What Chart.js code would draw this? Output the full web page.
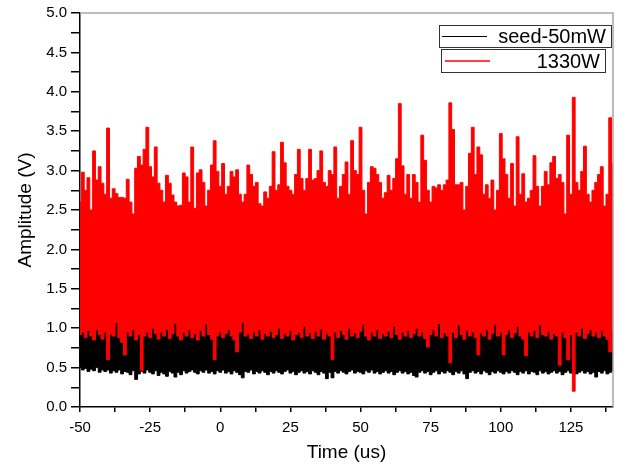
<!DOCTYPE html>
<html>
<head>
<meta charset="utf-8">
<script src="https://cdn.jsdelivr.net/npm/chart.js@4/dist/chart.umd.min.js"></script>
<style>
  html, body { margin: 0; padding: 0; background: #fff; }
  #wrap { width: 622px; height: 468px; }
</style>
</head>
<body>
<div id="wrap"><canvas id="chart" width="622" height="468"></canvas></div>
<script>
// sample times (us), one reading per microsecond
const times = [
  -50, -49, -48, -47, -46, -45, -44, -43, -42, -41,
  -40, -39, -38, -37, -36, -35, -34, -33, -32, -31,
  -30, -29, -28, -27, -26, -25, -24, -23, -22, -21,
  -20, -19, -18, -17, -16, -15, -14, -13, -12, -11,
  -10, -9, -8, -7, -6, -5, -4, -3, -2, -1,
  0, 1, 2, 3, 4, 5, 6, 7, 8, 9,
  10, 11, 12, 13, 14, 15, 16, 17, 18, 19,
  20, 21, 22, 23, 24, 25, 26, 27, 28, 29,
  30, 31, 32, 33, 34, 35, 36, 37, 38, 39,
  40, 41, 42, 43, 44, 45, 46, 47, 48, 49,
  50, 51, 52, 53, 54, 55, 56, 57, 58, 59,
  60, 61, 62, 63, 64, 65, 66, 67, 68, 69,
  70, 71, 72, 73, 74, 75, 76, 77, 78, 79,
  80, 81, 82, 83, 84, 85, 86, 87, 88, 89,
  90, 91, 92, 93, 94, 95, 96, 97, 98, 99,
  100, 101, 102, 103, 104, 105, 106, 107, 108, 109,
  110, 111, 112, 113, 114, 115, 116, 117, 118, 119,
  120, 121, 122, 123, 124, 125, 126, 127, 128, 129,
  130, 131, 132, 133, 134, 135, 136, 137, 138, 139,
  140
];

// 1330W trace: upper and lower envelope (V)
const redHigh = [
  2.6, 2.98, 2.75, 2.91, 2.5, 3.25, 2.88, 3.05, 2.84, 2.7,
  3.54, 2.65, 2.77, 2.71, 2.66, 2.66, 2.65, 2.89, 2.6, 2.45,
  3.03, 3.18, 3.07, 3.27, 3.55, 3.05, 2.92, 3.3, 2.84, 2.75,
  2.6, 2.94, 2.84, 2.69, 2.6, 2.55, 2.56, 2.97, 2.92, 2.6,
  3.3, 2.52, 2.97, 3.01, 2.85, 2.55, 2.75, 3.07, 3.38, 2.99,
  2.8, 3.09, 2.7, 2.8, 2.99, 2.92, 3.01, 2.7, 2.6, 2.7,
  3.07, 2.95, 2.8, 2.85, 2.58, 2.55, 2.73, 2.65, 2.8, 3.24,
  2.75, 2.82, 3.36, 3.1, 2.8, 2.75, 2.7, 2.95, 3.27, 2.9,
  2.75, 2.9, 3.27, 2.88, 2.9, 3.0, 3.25, 2.85, 2.8, 3.0,
  2.95, 3.3, 2.65, 2.8, 2.95, 3.11, 2.7, 3.38, 3.0, 2.95,
  3.55, 2.75, 2.45, 2.85, 3.05, 3.03, 2.95, 2.85, 2.65, 2.72,
  2.94, 2.75, 2.9, 3.15, 3.85, 3.06, 2.7, 2.95, 2.65, 2.95,
  2.85, 2.6, 3.45, 3.13, 2.75, 2.6, 2.8, 2.78, 2.82, 2.75,
  2.82, 2.88, 3.86, 3.52, 2.82, 2.82, 2.85, 2.5, 2.8, 3.22,
  3.55, 2.95, 3.3, 3.2, 2.7, 2.82, 2.65, 2.88, 2.5, 2.75,
  3.47, 3.15, 2.95, 2.65, 3.09, 2.55, 3.43, 2.7, 2.96, 2.6,
  2.65, 2.75, 3.19, 2.8, 2.55, 2.8, 2.99, 2.82, 3.1, 3.18,
  2.9, 2.95, 2.85, 2.45, 3.45, 2.7, 3.93, 2.85, 2.75, 2.99,
  3.31, 2.7, 2.6, 2.75, 2.85, 2.95, 3.05, 2.55, 2.7, 3.67,
  3.09
];
const redLow = [
  0.92, 0.95, 0.88, 0.97, 0.9, 0.85, 0.98, 0.92, 0.86, 0.95,
  0.6, 0.93, 0.9, 1.07, 0.88, 0.82, 0.66, 0.95, 0.9, 0.98,
  0.85, 0.92, 0.46, 0.9, 0.95, 0.88, 1.0, 0.93, 0.86, 0.95,
  0.9, 0.98, 0.87, 0.93, 1.06, 0.9, 0.85, 0.95, 0.9, 0.98,
  0.88, 0.93, 0.85, 0.97, 0.9, 1.05, 0.92, 0.86, 0.6, 0.9,
  0.95, 0.88, 0.93, 0.98, 0.9, 0.85, 0.7, 0.95, 1.07, 0.9,
  0.93, 0.87, 0.95, 0.9, 0.98, 0.86, 0.93, 0.9, 0.96, 0.88,
  0.92, 1.0, 0.87, 0.93, 0.9, 0.97, 0.85, 0.92, 0.95, 0.88,
  1.02, 0.9, 0.94, 0.87, 0.96, 0.9, 0.99, 0.86, 0.93, 0.9,
  0.6, 0.95, 0.88, 0.97, 0.92, 0.86, 1.0, 0.9, 0.94, 0.88,
  0.96, 1.05, 0.9, 0.85, 0.95, 0.9, 0.98, 0.87, 0.93, 0.9,
  0.96, 0.88, 1.02, 0.92, 0.86, 0.95, 0.9, 0.97, 0.88, 0.93,
  1.0, 0.9, 0.95, 0.87, 0.76, 0.92, 0.98, 0.9, 1.06, 0.88,
  0.94, 0.9, 0.56, 0.95, 0.88, 1.04, 0.92, 0.86, 0.97, 0.9,
  0.95, 0.88, 0.66, 0.94, 0.9, 0.98, 0.86, 0.93, 1.05, 0.9,
  0.95, 0.66, 0.92, 0.98, 0.88, 0.94, 1.02, 0.9, 0.86, 0.65,
  0.95, 0.9, 0.97, 0.88, 1.04, 0.92, 0.9, 0.96, 0.86, 0.93,
  0.9, 0.53, 0.95, 0.88, 0.6, 0.92, 0.2, 0.95, 0.9, 1.0,
  0.87, 0.93, 0.98, 0.9, 0.95, 0.88, 0.97, 0.9, 0.86, 0.7,
  0.95
];

// seed-50mW trace: upper and lower envelope (V)
const seedHigh = [
  1.0, 1.04, 0.98, 1.06, 1.0, 0.97, 1.05, 1.0, 0.96, 1.03,
  0.98, 1.02, 1.0, 1.1, 0.97, 1.02, 0.99, 1.04, 0.97, 1.05,
  0.98, 1.03, 0.97, 1.0, 0.96, 1.04, 1.05, 1.0, 0.97, 1.02,
  0.99, 1.04, 0.96, 1.01, 1.09, 0.98, 0.95, 1.03, 0.98, 1.04,
  0.97, 1.01, 0.96, 1.04, 0.99, 1.08, 1.0, 0.97, 0.99, 1.02,
  1.0, 0.97, 1.03, 1.04, 0.98, 0.96, 1.0, 1.02, 1.1, 0.98,
  1.0, 0.96, 1.03, 0.98, 1.04, 0.97, 1.01, 0.98, 1.03, 0.96,
  1.0, 1.05, 0.97, 1.02, 0.98, 1.04, 0.97, 1.0, 1.02, 0.96,
  1.06, 0.99, 1.02, 0.97, 1.03, 0.98, 1.04, 0.96, 1.01, 0.99,
  1.0, 1.03, 0.97, 1.04, 1.0, 0.95, 1.05, 0.98, 1.02, 0.97,
  1.03, 1.08, 0.98, 0.95, 1.02, 0.99, 1.04, 0.96, 1.01, 0.98,
  1.03, 0.97, 1.06, 1.0, 0.96, 1.02, 0.98, 1.04, 0.97, 1.01,
  1.05, 0.98, 1.02, 0.96, 0.99, 1.0, 1.04, 0.98, 1.1, 0.97,
  1.02, 0.99, 1.0, 1.03, 0.97, 1.07, 1.0, 0.95, 1.03, 0.98,
  1.02, 0.97, 1.0, 1.02, 0.98, 1.04, 0.96, 1.0, 1.08, 0.98,
  1.02, 0.99, 1.0, 1.04, 0.97, 1.01, 1.06, 0.98, 0.96, 1.0,
  1.02, 0.98, 1.04, 0.96, 1.07, 1.0, 0.97, 1.03, 0.95, 1.0,
  0.98, 1.0, 1.02, 0.97, 1.0, 1.0, 0.98, 1.03, 0.97, 1.04,
  0.96, 1.0, 1.05, 0.98, 1.02, 0.97, 1.03, 0.98, 0.95, 1.0,
  1.02
];
const seedLow = [
  0.5, 0.47, 0.49, 0.45, 0.48, 0.46, 0.5, 0.44, 0.47, 0.45,
  0.47, 0.43, 0.46, 0.44, 0.47, 0.42, 0.45, 0.44, 0.41, 0.46,
  0.35, 0.42, 0.45, 0.43, 0.47, 0.44, 0.42, 0.46, 0.4, 0.44,
  0.42, 0.39, 0.45, 0.43, 0.38, 0.44, 0.41, 0.46, 0.43, 0.45,
  0.47, 0.44, 0.42, 0.46, 0.44, 0.47, 0.43, 0.45, 0.42, 0.46,
  0.44, 0.47, 0.43, 0.45, 0.42, 0.46, 0.44, 0.41, 0.37, 0.45,
  0.44, 0.47, 0.42, 0.45, 0.43, 0.46, 0.44, 0.41, 0.45, 0.43,
  0.46, 0.44, 0.42, 0.45, 0.47, 0.43, 0.45, 0.41, 0.44, 0.46,
  0.43, 0.45, 0.42, 0.46, 0.44, 0.41, 0.45, 0.43, 0.36, 0.44,
  0.37, 0.45, 0.43, 0.46, 0.44, 0.42, 0.45, 0.47, 0.43, 0.45,
  0.44, 0.42, 0.46, 0.44, 0.47, 0.43, 0.45, 0.42, 0.44, 0.46,
  0.43, 0.45, 0.41, 0.44, 0.46, 0.43, 0.45, 0.42, 0.44, 0.4,
  0.38, 0.44, 0.46, 0.43, 0.45, 0.41, 0.44, 0.46, 0.42, 0.45,
  0.43, 0.46, 0.44, 0.41, 0.45, 0.43, 0.46, 0.42, 0.36, 0.44,
  0.46, 0.43, 0.45, 0.42, 0.46, 0.44, 0.41, 0.45, 0.43, 0.46,
  0.44, 0.42, 0.45, 0.43, 0.46, 0.44, 0.41, 0.45, 0.43, 0.46,
  0.42, 0.45, 0.44, 0.41, 0.46, 0.43, 0.45, 0.42, 0.44, 0.46,
  0.43, 0.45, 0.41, 0.44, 0.46, 0.43, 0.45, 0.42, 0.44, 0.46,
  0.43, 0.45, 0.42, 0.44, 0.38, 0.45, 0.43, 0.46, 0.42, 0.44,
  0.46
];

const seriesNames = ['seed-50mW', '1330W'];
const seriesColors = ['#000000', '#ff0000'];

function points(values) {
    return times.map((t, i) => ({ x: t, y: values[i] }));
}

// grey top/right frame plus Origin-style legend boxes
const frameAndLegend = {
    id: 'frameAndLegend',
    afterDatasetsDraw(chart) {
        const { ctx, chartArea: a } = chart;
        ctx.save();
        ctx.strokeStyle = '#a8a8a8';
        ctx.lineWidth = 1.5;
        ctx.beginPath();
        ctx.moveTo(a.left, a.top);
        ctx.lineTo(a.right, a.top);
        ctx.lineTo(a.right, a.bottom);
        ctx.stroke();
        ctx.restore();
    },
    afterDraw(chart) {
        const { ctx, chartArea: a } = chart;
        const boxes = [
            { x: a.right - 174, y: a.top + 12, w: 172, h: 22, lineW: 1 },
            { x: a.right - 172, y: a.top + 36, w: 164, h: 23, lineW: 1.5 }
        ];
        ctx.save();
        ctx.font = '20px "Liberation Sans", Arial, sans-serif';
        ctx.textAlign = 'right';
        ctx.textBaseline = 'middle';
        boxes.forEach((b, i) => {
            ctx.fillStyle = '#fff';
            ctx.fillRect(b.x, b.y, b.w, b.h);
            ctx.strokeStyle = '#333';
            ctx.lineWidth = 1;
            ctx.strokeRect(b.x + 0.5, b.y + 0.5, b.w, b.h);
            const midY = b.y + b.h / 2 + 0.5;
            ctx.strokeStyle = seriesColors[i];
            ctx.lineWidth = b.lineW;
            ctx.beginPath();
            ctx.moveTo(b.x + 3 + i, midY);
            ctx.lineTo(b.x + 48 + i, midY);
            ctx.stroke();
            ctx.fillStyle = '#000';
            ctx.fillText(seriesNames[i], b.x + b.w - 5, midY + 1);
        });
        ctx.restore();
    }
};

const tickFont = { family: '"Liberation Sans", Arial, sans-serif', size: 15 };
const titleFont = { family: '"Liberation Sans", Arial, sans-serif', size: 19, lineHeight: 1 };

new Chart(document.getElementById('chart'), {
    type: 'line',
    data: {
        datasets: [
            { label: seriesNames[0], data: points(seedHigh), borderColor: '#000', backgroundColor: '#000', fill: 1, order: 2 },
            { label: seriesNames[0] + ' low', data: points(seedLow), borderColor: '#000', fill: false, order: 2 },
            { label: seriesNames[1], data: points(redHigh), borderColor: '#ff0000', backgroundColor: '#ff0000', fill: 3, order: 1 },
            { label: seriesNames[1] + ' low', data: points(redLow), borderColor: '#ff0000', fill: false, order: 1 }
        ]
    },
    options: {
        responsive: false,
        animation: false,
        layout: { padding: { top: 13, right: 9, left: 0, bottom: 0 } },
        elements: {
            point: { radius: 0 },
            line: { borderWidth: 1, tension: 0, stepped: 'middle' }
        },
        plugins: {
            legend: { display: false },
            tooltip: { enabled: false }
        },
        scales: {
            x: {
                type: 'linear',
                min: -50,
                max: 140,
                afterFit: scale => { scale.height = 61; },
                border: { color: '#000', width: 1.5 },
                grid: { drawOnChartArea: false, tickLength: 5, color: '#000', lineWidth: 1.5 },
                ticks: {
                    stepSize: 12.5,
                    includeBounds: false,
                    autoSkip: false,
                    maxRotation: 0,
                    padding: 7,
                    color: '#000',
                    font: tickFont,
                    callback: v => (v % 25 === 0 ? String(v) : '')
                },
                title: { display: true, text: 'Time (us)', color: '#000', font: titleFont, padding: { top: 0, bottom: 6 } }
            },
            y: {
                min: 0,
                max: 5,
                afterFit: scale => { scale.width = 80; },
                border: { color: '#000', width: 1.5 },
                grid: { drawOnChartArea: false, tickLength: 9, color: '#000', lineWidth: 1.5 },
                ticks: {
                    stepSize: 0.25,
                    autoSkip: false,
                    padding: 4,
                    color: '#000',
                    font: tickFont,
                    callback: v => (Math.abs(v * 2 - Math.round(v * 2)) < 1e-6 ? v.toFixed(1) : '')
                },
                title: { display: true, text: 'Amplitude (V)', color: '#000', font: titleFont, padding: { top: 16, bottom: 0 } }
            }
        }
    },
    plugins: [frameAndLegend]
});
</script>
</body>
</html>
